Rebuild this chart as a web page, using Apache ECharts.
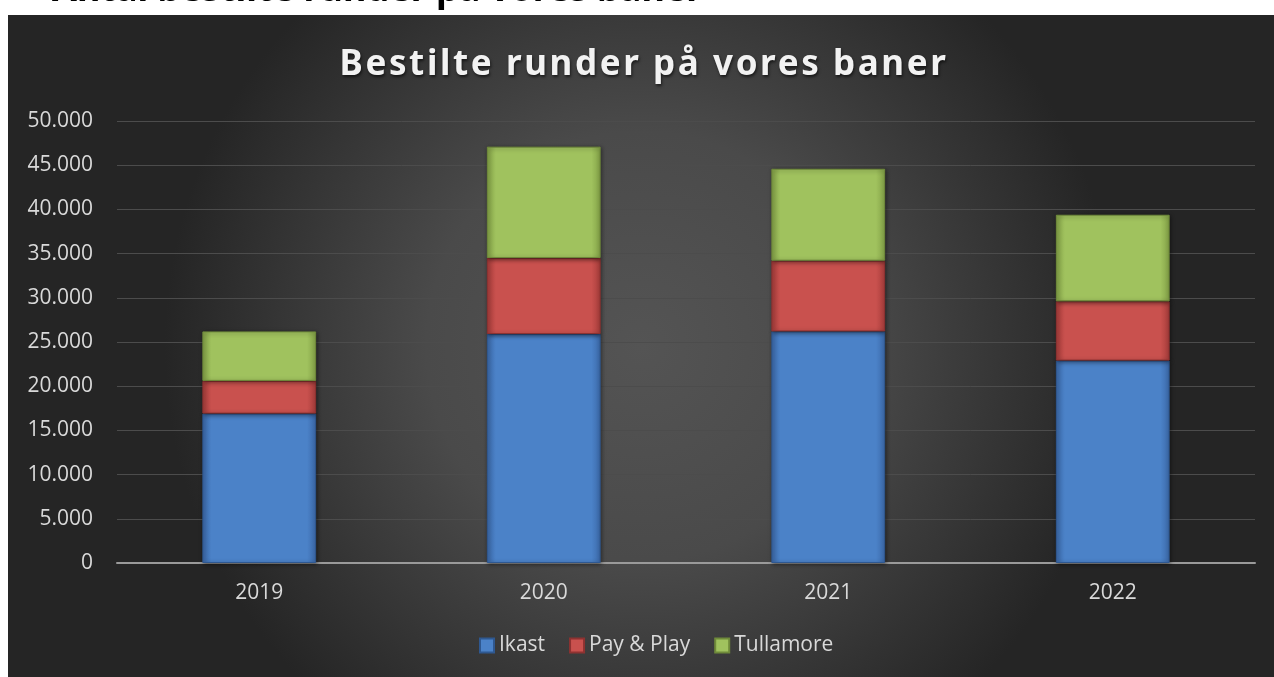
<!DOCTYPE html>
<html>
<head>
<meta charset="utf-8">
<style>
  html, body { margin: 0; padding: 0; background: #fff; }
  #wrap { position: relative; width: 1274px; height: 677px; overflow: hidden; }
  #chart { width: 1274px; height: 677px; }
  #title {
    position: absolute; left: 14px; right: 0; top: 38px;
    text-align: center; font: bold 35px "Noto Sans"; letter-spacing: 2.6px;
    color: #f2f2f2; text-shadow: 1px 2px 3px rgba(0,0,0,0.6);
    pointer-events: none;
  }
</style>
<script src="https://cdn.jsdelivr.net/npm/echarts@6/dist/echarts.min.js"></script>
</head>
<body>
<div id="wrap">
  <div id="chart"></div>
  <div id="title">Bestilte runder på vores baner</div>
</div>
<script>
// data
const years = ['2019', '2020', '2021', '2022']
const ikast = [16900, 25900, 26200, 22900]
const payPlay = [3700, 8600, 8000, 6700]
const tullamore = [5600, 12600, 10400, 9800]

const chart = echarts.init(document.getElementById('chart'))

// bevel-ish fill: darker at the sides, lighter in the middle
function bevel(edge, mid) {
  return new echarts.graphic.LinearGradient(0, 0, 1, 0, [
    { offset: 0, color: edge },
    { offset: 0.08, color: mid },
    { offset: 0.92, color: mid },
    { offset: 1, color: edge },
  ])
}

function barSeries(name, data, edge, mid, border) {
  return {
    name,
    type: 'bar',
    stack: 'total',
    barWidth: '40%',
    data,
    itemStyle: {
      color: bevel(edge, mid),
      borderColor: border,
      borderWidth: 1,
      shadowColor: 'rgba(0,0,0,0.45)',
      shadowBlur: 4,
      shadowOffsetX: 1,
      shadowOffsetY: 1,
    },
    emphasis: { disabled: true },
  }
}

const thousands = v => String(v).replace(/\B(?=(\d{3})+(?!\d))/g, '.')

chart.setOption({
  backgroundColor: '#fff',
  animation: false,
  graphic: [
    {
      // cut-off heading above the chart box
      type: 'text',
      z: -20,
      x: 52,
      y: -27.5,
      style: {
        text: 'Antal bestilte runder på vores baner',
        font: 'bold 36px "Noto Sans"',
        fill: '#000',
      },
    },
    {
      type: 'rect',
      z: -10,
      shape: { x: 8, y: 15, width: 1266, height: 662 },
      style: {
        fill: new echarts.graphic.RadialGradient(0.5, 0.5, 0.72, [
          { offset: 0, color: '#545454' },
          { offset: 0.45, color: '#4a4a4a' },
          { offset: 1, color: '#252525' },
        ]),
      },
    },
  ],
  legend: {
    bottom: 16,
    left: 474,
    itemWidth: 14,
    itemHeight: 14,
    itemGap: 24,
    icon: 'rect',
    textStyle: { color: '#d9d9d9', fontSize: 21, fontFamily: 'Open Sans' },
    data: ['Ikast', 'Pay & Play', 'Tullamore'],
  },
  grid: { left: 117, right: 19, top: 121, bottom: 114 },
  xAxis: {
    type: 'category',
    data: years,
    axisLine: { lineStyle: { color: '#9a9a9a', width: 2 } },
    axisTick: { show: false },
    axisLabel: { color: '#d9d9d9', fontSize: 21, fontFamily: 'Open Sans', margin: 20 },
  },
  yAxis: {
    type: 'value',
    min: 0,
    max: 50000,
    interval: 5000,
    axisLine: { show: false },
    axisTick: { show: false },
    splitLine: { lineStyle: { color: '#4c4c4c', width: 1 } },
    axisLabel: {
      color: '#d9d9d9',
      fontSize: 21,
      fontFamily: 'Open Sans',
      margin: 24,
      formatter: thousands,
    },
  },
  series: [
    barSeries('Ikast', ikast, '#3b68a8', '#4b82c8', '#2f5890'),
    barSeries('Pay & Play', payPlay, '#a53c3a', '#c9514e', '#8e3231'),
    barSeries('Tullamore', tullamore, '#82a046', '#a0c25e', '#6f8a3a'),
  ],
})
</script>
</body>
</html>
